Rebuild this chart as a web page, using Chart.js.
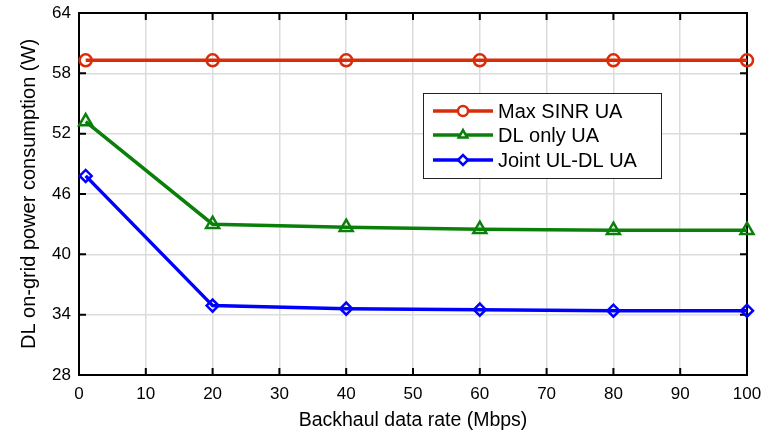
<!DOCTYPE html>
<html>
<head>
<meta charset="utf-8">
<script src="https://cdn.jsdelivr.net/npm/chart.js@4"></script>
<style>
    html, body { margin: 0; padding: 0; background: #fff; }
    #wrap { width: 764px; height: 436px; }
</style>
</head>
<body>
<div id="wrap"><canvas id="myChart" width="764" height="436"></canvas></div>
<script>
var rates = [1, 20, 40, 60, 80, 100];
var maxSinr = [59.3, 59.3, 59.3, 59.3, 59.3, 59.3];
var dlOnly = [53.2, 43.0, 42.7, 42.5, 42.4, 42.4];
var jointUlDl = [47.8, 34.9, 34.6, 34.5, 34.4, 34.4];

var seriesNames = ["Max SINR UA", "DL only UA", "Joint UL-DL UA"];
var colors = ["#d92d0a", "#0a800a", "#0000ff"];
var markers = ["circle", "triangle", "rectRot"];

var FONT = '"Liberation Sans", Arial, sans-serif';

function toPoints(ys) {
    return rates.map(function (x, i) { return {x: x, y: ys[i]}; });
}

// box round the plot with inward ticks
var boxPlugin = {
    id: 'box',
    beforeDatasetsDraw: function (chart) {
        var ctx = chart.ctx, a = chart.chartArea;
        var xs = chart.scales.x, ys = chart.scales.y;
        ctx.save();
        ctx.strokeStyle = '#000';
        ctx.lineWidth = 2;
        ctx.strokeRect(a.left, a.top, a.right - a.left, a.bottom - a.top);
        ctx.beginPath();
        xs.ticks.forEach(function (t) {
            var px = xs.getPixelForValue(t.value);
            ctx.moveTo(px, a.bottom); ctx.lineTo(px, a.bottom - 7);
            ctx.moveTo(px, a.top); ctx.lineTo(px, a.top + 7);
        });
        ys.ticks.forEach(function (t) {
            var py = ys.getPixelForValue(t.value);
            ctx.moveTo(a.left, py); ctx.lineTo(a.left + 7, py);
            ctx.moveTo(a.right, py); ctx.lineTo(a.right - 7, py);
        });
        ctx.stroke();
        ctx.restore();
    }
};

var legendPlugin = {
    id: 'boxLegend',
    afterDraw: function (chart) {
        var ctx = chart.ctx;
        var x0 = 423, y0 = 93, w = 238, h = 85;
        ctx.save();
        ctx.fillStyle = '#fff';
        ctx.fillRect(x0, y0, w, h);
        ctx.strokeStyle = '#222';
        ctx.lineWidth = 1;
        ctx.strokeRect(x0 + 0.5, y0 + 0.5, w, h);
        var rows = [111, 135, 160];
        ctx.font = '20px ' + FONT;
        ctx.textBaseline = 'middle';
        for (var i = 0; i < 3; i++) {
            var y = rows[i];
            ctx.strokeStyle = colors[i];
            ctx.lineWidth = 3.5;
            ctx.beginPath();
            ctx.moveTo(433, y); ctx.lineTo(493, y);
            ctx.stroke();
            ctx.lineWidth = 2.5;
            ctx.fillStyle = '#fff';
            Chart.helpers.drawPoint(ctx, {
                pointStyle: markers[i], radius: 5, borderWidth: 2.5, rotation: 0
            }, 463, y);
            ctx.fillStyle = '#000';
            ctx.fillText(seriesNames[i], 498, y + 1);
        }
        ctx.restore();
    }
};

var datasets = [maxSinr, dlOnly, jointUlDl].map(function (ys, i) {
    return {
        label: seriesNames[i],
        data: toPoints(ys),
        borderColor: colors[i],
        backgroundColor: colors[i],
        borderWidth: 3.5,
        pointStyle: markers[i],
        pointRadius: markers[i] === 'triangle' ? 7.5 : 6,
        pointBorderWidth: 2.5,
        pointBackgroundColor: 'rgba(255,255,255,0)',
        pointBorderColor: colors[i],
        clip: false,
        tension: 0
    };
});

function noOverhang(s) {
    s.paddingLeft = 0; s.paddingRight = 0;
    s.paddingTop = 0; s.paddingBottom = 0;
}

var ctx = document.getElementById('myChart').getContext('2d');
var chart = new Chart(ctx, {
    type: 'line',
    data: { datasets: datasets },
    plugins: [boxPlugin, legendPlugin],
    options: {
        responsive: false,
        animation: false,
        layout: { padding: { left: 0, right: 17, top: 13, bottom: 0 } },
        plugins: { legend: { display: false }, tooltip: { enabled: false } },
        scales: {
            x: {
                type: 'linear', min: 0, max: 100,
                ticks: { stepSize: 10, color: '#000', padding: 9,
                    font: { family: FONT, size: 17 } },
                grid: { color: '#dcdcdc', lineWidth: 1.5, drawTicks: false },
                border: { display: false },
                title: { display: true, text: 'Backhaul data rate (Mbps)', color: '#000',
                    font: { family: FONT, size: 19.5 }, padding: { top: 1 } },
                afterFit: function (s) { s.height = 61; noOverhang(s); }
            },
            y: {
                min: 28, max: 64,
                ticks: { stepSize: 6, color: '#000', padding: 8,
                    font: { family: FONT, size: 17 } },
                grid: { color: '#dcdcdc', lineWidth: 1.5, drawTicks: false },
                border: { display: false },
                title: { display: true, text: 'DL on-grid power consumption (W)', color: '#000',
                    font: { family: FONT, size: 20 }, padding: { top: 17 } },
                afterFit: function (s) { s.width = 79; noOverhang(s); }
            }
        }
    }
});
</script>
</body>
</html>
